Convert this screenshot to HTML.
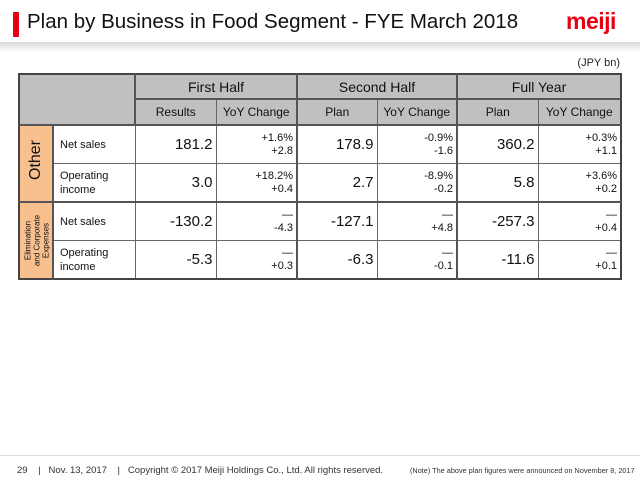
<!DOCTYPE html>
<html><head><meta charset="utf-8"><style>
body{margin:0;width:640px;height:480px;background:#fff;font-family:"Liberation Sans",Arial,sans-serif;position:relative;overflow:hidden}
.bar{position:absolute;left:13px;top:12px;width:6px;height:25px;background:#e60012;border-radius:1px}
.title{position:absolute;left:27px;top:10px;font-size:20.5px;color:#111}
.logo{position:absolute;left:566px;top:8px;font-size:23px;font-weight:bold;color:#e60012;letter-spacing:-0.5px}
.shadow{position:absolute;left:0;top:42px;width:640px;height:10px;background:linear-gradient(#d8d8d8,#fff)}
.unit{position:absolute;right:20px;top:57px;font-size:11px;color:#222}
table{position:absolute;left:18px;top:73px;width:602px;border-collapse:collapse;border:2px solid #444;table-layout:fixed}
td{padding:0;font-size:11px;color:#111;border:1px solid #666;overflow:hidden}
.h{background:#c0c0c0;text-align:center}
.h1{font-size:14px;height:23px;border-bottom:2px solid #555}
.h2{font-size:12px;height:24px}
.or{background:#f9c08f;text-align:center}
.num{font-size:15px;text-align:right;padding-right:3px;border-right:1px dashed #999}
.yoy{font-size:11px;text-align:right;padding-right:3px;line-height:13px}
.lab{padding-left:6px;line-height:14px}
.ds{border-right:1px dashed #999}
.thick{border-left:2px solid #555}
tr.b td{height:37px}
tr.g td{border-top:2px solid #555}
.foot{position:absolute;top:465px;font-size:9.5px;color:#333;white-space:nowrap}
.fline{position:absolute;left:0;top:455px;width:640px;height:1px;background:#ddd}
</style></head><body>
<div class="bar"></div>
<div class="title">Plan by Business in Food Segment - FYE March 2018</div>
<div class="logo">meiji</div>
<div class="shadow"></div>
<div class="unit">(JPY bn)</div>
<table>
<colgroup><col style="width:34px"><col style="width:82px"><col style="width:81px"><col style="width:81px"><col style="width:80px"><col style="width:80px"><col style="width:81px"><col style="width:83px"></colgroup>
<tr><td class="h" colspan="2" rowspan="2" style="border-right:2px solid #555"></td><td class="h h1" colspan="2">First Half</td><td class="h h1 thick" colspan="2">Second Half</td><td class="h h1 thick" colspan="2">Full Year</td></tr>
<tr><td class="h h2 ds">Results</td><td class="h h2">YoY Change</td><td class="h h2 ds thick">Plan</td><td class="h h2">YoY Change</td><td class="h h2 ds thick">Plan</td><td class="h h2">YoY Change</td></tr>
<tr class="b g"><td class="or" rowspan="2" style="border-right:2px solid #555"><div style="transform:rotate(-90deg);font-size:16px;white-space:nowrap">Other</div></td><td class="lab">Net sales</td><td class="num">181.2</td><td class="yoy">+1.6%<br>+2.8</td><td class="num thick">178.9</td><td class="yoy">-0.9%<br>-1.6</td><td class="num thick">360.2</td><td class="yoy">+0.3%<br>+1.1</td></tr>
<tr class="b"><td class="lab">Operating<br>income</td><td class="num">3.0</td><td class="yoy">+18.2%<br>+0.4</td><td class="num thick">2.7</td><td class="yoy">-8.9%<br>-0.2</td><td class="num thick">5.8</td><td class="yoy">+3.6%<br>+0.2</td></tr>
<tr class="b g"><td class="or" rowspan="2" style="border-right:2px solid #555"><div style="transform:rotate(-90deg);font-size:8px;line-height:9px;white-space:nowrap;width:76px;margin-left:-21px">Elimination<br>and Corporate<br>Expenses</div></td><td class="lab">Net sales</td><td class="num">-130.2</td><td class="yoy">—<br>-4.3</td><td class="num thick">-127.1</td><td class="yoy">—<br>+4.8</td><td class="num thick">-257.3</td><td class="yoy">—<br>+0.4</td></tr>
<tr class="b"><td class="lab">Operating<br>income</td><td class="num">-5.3</td><td class="yoy">—<br>+0.3</td><td class="num thick">-6.3</td><td class="yoy">—<br>-0.1</td><td class="num thick">-11.6</td><td class="yoy">—<br>+0.1</td></tr>
</table>
<div class="fline"></div>
<div class="foot" style="left:17px">29 &nbsp;&nbsp;&nbsp;|&nbsp;&nbsp; Nov. 13, 2017 &nbsp;&nbsp;&nbsp;|&nbsp;&nbsp; Copyright © 2017 Meiji Holdings Co., Ltd. All rights reserved.</div>
<div class="foot" style="left:410px;font-size:7.3px;top:466px">(Note) The above plan figures were announced on November 8, 2017</div>
</body></html>
